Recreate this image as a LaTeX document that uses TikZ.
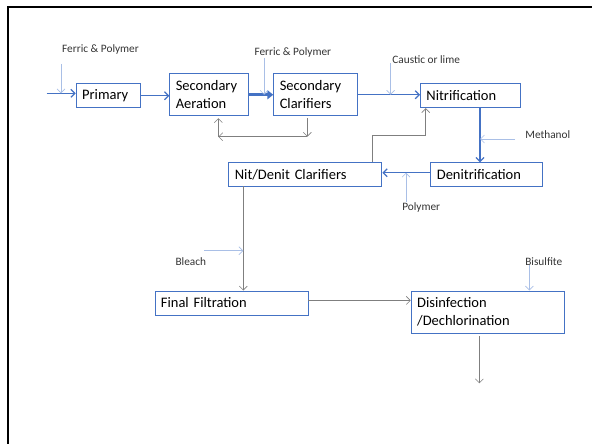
\documentclass[tikz,border=0pt]{standalone}
\usepackage{fontspec}
\setmainfont{Carlito}
\usetikzlibrary{arrows.meta}
\definecolor{boxblue}{HTML}{4472C4}
\definecolor{doseblue}{HTML}{A9BFE6}
\definecolor{linegrey}{HTML}{7F7F7F}
\definecolor{labelgrey}{HTML}{333333}

\tikzset{
  unit/.style={draw=boxblue, line width=0.9pt, anchor=north west, align=left,
    inner xsep=6pt, inner ysep=0pt, font=\fontsize{14.5}{18}\selectfont},
  chem/.style={text=labelgrey, font=\fontsize{11.3}{13}\selectfont},
  flow/.style={draw=boxblue, line width=1.2pt, -{Straight Barb[length=4pt,width=8pt]}},
  bigflow/.style={draw=boxblue, line width=2.6pt, -{Triangle[length=6pt,width=9pt]}},
  dose/.style={draw=doseblue, line width=0.7pt, -{Straight Barb[length=4pt,width=8pt]}},
  back/.style={draw=linegrey, line width=0.6pt, -{Straight Barb[length=4pt,width=8pt]}}
}

\begin{document}
\begin{tikzpicture}[x=1pt,y=-1pt]

\useasboundingbox (0,0) rectangle (592,444);
\draw[black,line width=2pt] (7.5,444) -- (7.5,7) -- (592,7);

\node[unit,text width=52.3pt,minimum height=24pt] (primary) at (75.7,83.3) {Primary};
\node[unit,text width=67pt,minimum height=42pt] (aeration) at (169.3,73.3) {Secondary\\Aeration};
\node[unit,text width=71.5pt,minimum height=42pt] (clarifiers) at (273.3,73.3) {Secondary\\Clarifiers};
\node[unit,text width=87.5pt,minimum height=24pt] (nitrif) at (420,83.3) {Nitrification};
\node[unit,text width=100pt,minimum height=24pt] (denitrif) at (430.4,162.3) {Denitrification};
\node[unit,text width=141pt,minimum height=24pt] (nitdenit) at (228.4,162.3) {Nit/Denit Clarifiers};
\node[unit,text width=141pt,minimum height=24pt] (filtration) at (154.5,290.5) {Final Filtration};
\node[unit,text width=141pt,minimum height=42pt] (disinfect) at (410.7,290.5) {Disinfection\\/Dechlorination};

\node[chem] (ferricA) at (100.5,49) {Ferric \& Polymer};
\node[chem] (ferricB) at (292.8,52.3) {Ferric \& Polymer};
\node[chem] (caustic) at (426.2,59.3) {Caustic or lime};
\node[chem] (methanol) at (547.8,134.3) {Methanol};
\node[chem] (polymer) at (421.2,207.7) {Polymer};
\node[chem] (bleach) at (190.8,261.7) {Bleach};
\node[chem] (bisulfite) at (543.8,261.7) {Bisulfite};

\coordinate (feed) at (46.7,93.3);
\coordinate (dose1) at (61,64);
\coordinate (dose2) at (264,58);
\coordinate (dose3) at (390.7,63.3);
\coordinate (dose4) at (515,139);
\coordinate (dose5) at (406,201.7);
\coordinate (dose6) at (204,250.7);
\coordinate (dose7) at (529.3,265);
\coordinate (nitdrop) at (480,107.3);
\coordinate (wasL) at (218.3,136.7);
\coordinate (wasR) at (307.3,136.7);
\coordinate (recycle) at (425.7,135.7);
\coordinate (effluent) at (243.3,186.3);
\coordinate (outfall) at (479.3,383.3);

\draw[flow] (feed) -- (feed -| primary.west);
\draw[flow] (primary.east) -- (primary.east -| aeration.west);
\draw[bigflow] (aeration.east) -- (clarifiers.west);
\draw[flow] (clarifiers.east) -- (clarifiers.east -| nitrif.west);
\draw[flow] (nitdrop) -- (nitdrop |- denitrif.north);
\draw[flow] ([yshift=2pt]denitrif.west) -- ([yshift=2pt]nitdenit.east);

\draw[back] ([yshift=-2pt]clarifiers.south -| wasR) -- (wasR);
\draw[back] (wasR) -- (wasL);
\draw[back] (wasL) -- ([yshift=-2pt]wasL |- aeration.south);
\draw[back] ([xshift=-9.7pt]nitdenit.north east) |- (recycle) -- (recycle |- nitrif.south);
\draw[back] (effluent) -- (effluent |- filtration.north);
\draw[back] ([yshift=2.5pt]filtration.east) -- ([yshift=2.5pt]filtration.east -| disinfect.west);
\draw[back] ([yshift=-2.7pt]disinfect.south -| outfall) -- (outfall);

\draw[dose] (dose1) -- (dose1 |- feed);
\draw[dose] (dose2) -- (dose2 |- aeration.east);
\draw[dose] (dose3) -- (dose3 |- clarifiers.east);
\draw[dose] (dose4) -- (dose4 -| nitdrop);
\draw[dose] (dose5) -- ([yshift=2pt]dose5 |- nitdenit.east);
\draw[dose] (dose6) -- (dose6 -| effluent);
\draw[dose] (dose7) -- (dose7 |- disinfect.north);

\end{tikzpicture}
\end{document}
